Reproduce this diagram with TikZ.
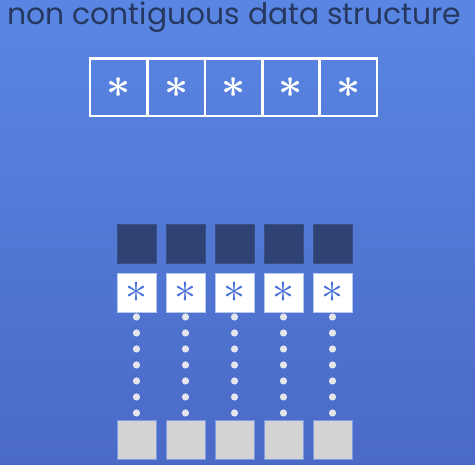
\documentclass[tikz,border=0pt]{standalone}
\usepackage{fontspec}
\setmainfont{Poppins}
\usepackage{amsmath,amssymb}
\definecolor{bgtop}{HTML}{5A86E3}
\definecolor{bgbot}{HTML}{4A6AC6}
\definecolor{navy}{HTML}{2E4373}
\definecolor{titleink}{HTML}{26385F}
\definecolor{memgray}{HTML}{D3D3D3}
\definecolor{starblue}{HTML}{4670D8}
\definecolor{dotgray}{HTML}{E4E6EC}
\newcommand{\cellstar}{\scalebox{4.2}{\boldmath$\ast$}}
\newcommand{\ptrstar}{\scalebox{4.4}{$\ast$}}
\tikzset{
  cell/.style={draw=white,line width=2.6pt,minimum size=57.4pt,inner sep=0pt,outer sep=0pt,text=white},
  block/.style={minimum size=39pt,inner sep=0pt,outer sep=0pt},
  objbox/.style={block,fill=navy,draw=navy!80!bgtop,line width=.6pt},
  ptrbox/.style={block,fill=white,draw=starblue!40,line width=.6pt,text=starblue},
  membox/.style={block,fill=memgray,draw=starblue!70,line width=.6pt},
  link/.style={dotgray,line width=7.2pt,line cap=round,dash pattern=on 0pt off 16pt,shorten <=5pt,shorten >=6.5pt}
}
\begin{document}
\begin{tikzpicture}[x=1pt,y=1pt]
\shade[top color=bgtop,bottom color=bgbot] (0,0) rectangle (475,465);
\useasboundingbox (0,0) rectangle (475,465);
\node[text=titleink,font=\fontsize{29.8}{33}\selectfont] (title) at (234.5,447.5) {non contiguous data structure};
% contiguous array of pointers
\node[cell] (arr1) at (118.7,377.5) {\cellstar};
\node[cell] (arr2) at (176.1,377.5) {\cellstar};
\node[cell] (arr3) at (233.5,377.5) {\cellstar};
\node[cell] (arr4) at (290.9,377.5) {\cellstar};
\node[cell] (arr5) at (348.3,377.5) {\cellstar};
% objects
\node[objbox] (obj1) at (136.5,221.5) {};
\node[objbox] (obj2) at (185.5,221.5) {};
\node[objbox] (obj3) at (234.5,221.5) {};
\node[objbox] (obj4) at (283.5,221.5) {};
\node[objbox] (obj5) at (332.5,221.5) {};
\node[ptrbox] (ptr1) at (136.5,172.5) {\ptrstar};
\node[ptrbox] (ptr2) at (185.5,172.5) {\ptrstar};
\node[ptrbox] (ptr3) at (234.5,172.5) {\ptrstar};
\node[ptrbox] (ptr4) at (283.5,172.5) {\ptrstar};
\node[ptrbox] (ptr5) at (332.5,172.5) {\ptrstar};
% memory
\node[membox] (mem1) at (136.5,25.5) {};
\node[membox] (mem2) at (185.5,25.5) {};
\node[membox] (mem3) at (234.5,25.5) {};
\node[membox] (mem4) at (283.5,25.5) {};
\node[membox] (mem5) at (332.5,25.5) {};
\draw[link] (ptr1.south) -- (mem1.north);
\draw[link] (ptr2.south) -- (mem2.north);
\draw[link] (ptr3.south) -- (mem3.north);
\draw[link] (ptr4.south) -- (mem4.north);
\draw[link] (ptr5.south) -- (mem5.north);
\end{tikzpicture}
\end{document}
